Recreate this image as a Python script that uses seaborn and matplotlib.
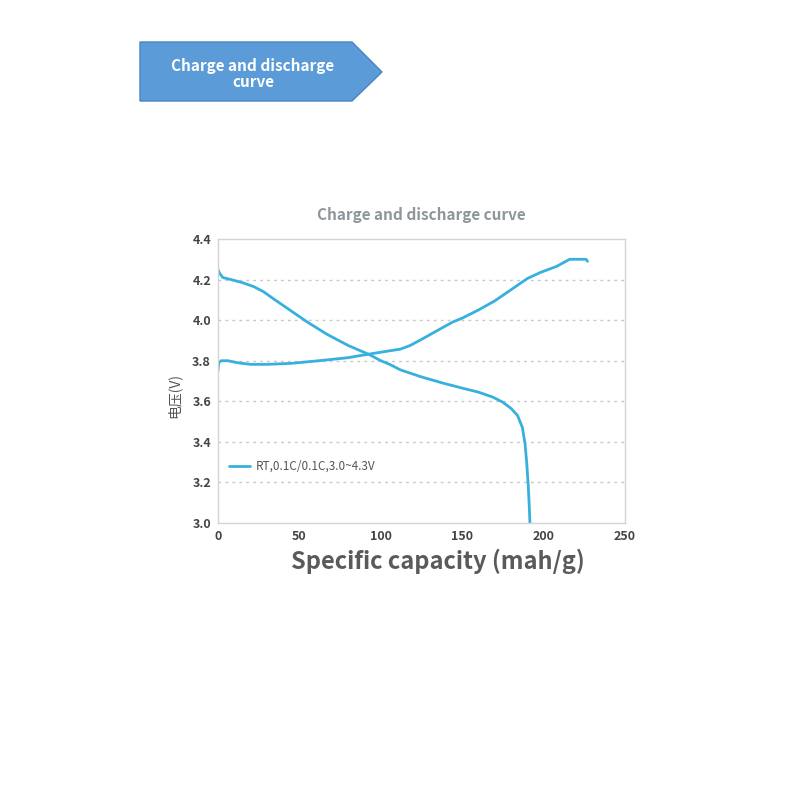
"""Charge / discharge curve recreation."""

import matplotlib

matplotlib.use("Agg")

import matplotlib.pyplot as plt
import pandas as pd
import seaborn as sns
from matplotlib.patches import Polygon

# charge curve (mAh/g, V)
charge_capacity = [0, 0.5, 2, 6, 12, 20, 30, 45, 62, 80, 93, 104, 112, 118, 125, 135, 144, 150, 160,
                   170, 180, 190, 198, 208, 216, 222, 226, 227]
charge_voltage = [3.75, 3.79, 3.80, 3.80, 3.79, 3.782, 3.782, 3.787, 3.80, 3.815, 3.833, 3.847, 3.857,
                  3.875, 3.905, 3.95, 3.99, 4.01, 4.05, 4.095, 4.15, 4.205, 4.235, 4.265, 4.30, 4.30,
                  4.30, 4.29]

# discharge curve (mAh/g, V)
discharge_capacity = [0, 1, 3, 8, 15, 22, 28, 35, 45, 55, 67, 80, 93, 100, 106, 112, 125, 138, 150,
                      160, 169, 175, 180, 184, 187, 188.6, 189.6, 190.6, 191.2, 191.6]
discharge_voltage = [4.25, 4.23, 4.21, 4.20, 4.185, 4.165, 4.14, 4.10, 4.045, 3.99, 3.93, 3.875, 3.83,
                     3.80, 3.78, 3.755, 3.72, 3.69, 3.665, 3.645, 3.62, 3.595, 3.565, 3.53, 3.47, 3.39,
                     3.30, 3.18, 3.08, 3.0]

legend_label = "RT,0.1C/0.1C,3.0~4.3V"
y_ticks = [3.0, 3.2, 3.4, 3.6, 3.8, 4.0, 4.2, 4.4]
x_ticks = [0, 50, 100, 150, 200, 250]

LINE = "#38b0de"

sns.set_theme(style="white")
plt.rcParams["font.family"] = ["Noto Sans CJK SC", "DejaVu Sans"]

fig = plt.figure(figsize=(8, 8), dpi=100)
ax = fig.add_axes([0.2725, 0.34625, 0.50875, 0.355])

charge = pd.DataFrame({"capacity": charge_capacity, "voltage": charge_voltage})
discharge = pd.DataFrame({"capacity": discharge_capacity, "voltage": discharge_voltage})

sns.lineplot(data=charge, x="capacity", y="voltage", sort=False, color=LINE,
             linewidth=2.0, ax=ax, label=legend_label)
sns.lineplot(data=discharge, x="capacity", y="voltage", sort=False, color=LINE,
             linewidth=2.0, ax=ax, label="_nolegend_")

ax.set_xlim(0, 250)
ax.set_ylim(3.0, 4.4)
ax.set_xticks(x_ticks)
ax.set_yticks(y_ticks)
ax.set_yticklabels([f"{v:.1f}" for v in y_ticks])
for y in y_ticks[1:-1]:
    ax.axhline(y, color="#c8c8c8", linestyle=(0, (2, 3)), linewidth=1.0, zorder=0)
for spine in ax.spines.values():
    spine.set_color("#d4d4d4")
    spine.set_linewidth(1.0)
ax.tick_params(axis="both", length=0, labelsize=9, colors="#444444", pad=5)
for lbl in ax.get_xticklabels() + ax.get_yticklabels():
    lbl.set_fontweight("bold")

ax.set_xlabel("Specific capacity (mah/g)", fontsize=17, fontweight="bold",
              color="#5a5a5a", labelpad=2)
ax.xaxis.set_label_coords(0.54, -0.09)
ax.set_ylabel("电压(V)", fontsize=10, color="#555555", labelpad=0)
ax.yaxis.set_label_coords(-0.09, 0.45)

ax.set_title("Charge and discharge curve", fontsize=11, fontweight="bold",
             color="#8c979c", pad=14)

leg = ax.legend(loc="center left", bbox_to_anchor=(0.0, 0.2), frameon=False,
                fontsize=8.5, handlelength=1.8, handletextpad=0.5)
for t in leg.get_texts():
    t.set_color("#555555")

# banner in the upper left
pts = [(140, 42), (352, 42), (382, 72), (352, 101), (140, 101)]
fig.patches.append(Polygon([(x / 800, 1 - y / 800) for x, y in pts], closed=True,
                           transform=fig.transFigure, facecolor="#5a9bd8",
                           edgecolor="#4a86c0", linewidth=1.0))
fig.text(253 / 800, 1 - 74 / 800, "Charge and discharge\ncurve", ha="center", va="center",
         fontsize=11, fontweight="bold", color="white", linespacing=1.0)

fig.savefig("out.png", dpi=100)
